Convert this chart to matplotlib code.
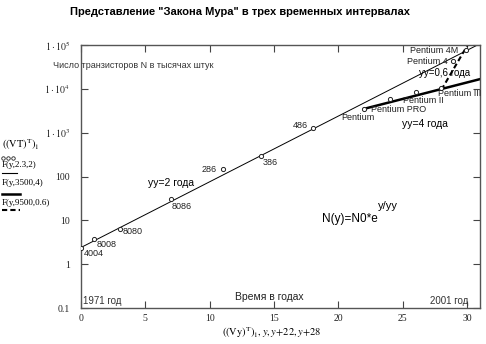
import matplotlib
matplotlib.use("Agg")
import matplotlib.pyplot as plt
from matplotlib.lines import Line2D

plt.rcParams['font.family'] = ['Liberation Sans', 'DejaVu Sans']
plt.rcParams['mathtext.fontset'] = 'stix'

# данные: годы от 1971 и число транзисторов (тыс. шт.)
years = [0, 1, 3, 7, 11, 14, 18, 22, 24, 26, 28, 28.9, 29.9]
transistors = [2.4, 3.7, 6.5, 30, 145, 300, 1280, 3500, 5800, 8400, 10400, 44000, 78000]

# прямые (на лог. шкале) трех законов: концы отрезков
fit1_x = [0, 31]
fit1_y = [2.4, 1.07e5]
fit2_x = [22, 31]
fit2_y = [3500, 16650]
fit3_x = [28, 30.04]
fit3_y = [9500, 1.0e5]

# подписи процессоров: текст, x, y, выравнивание
proc_labels = [
    ("4004", 0.23, 1.78, 'left'),
    ("8008", 1.24, 2.85, 'left'),
    ("8080", 3.26, 5.6, 'left'),
    ("8086", 7.07, 21, 'left'),
    ("286", 10.57, 144, 'right'),
    ("386", 14.14, 211, 'left'),
    ("486", 17.64, 1442, 'right'),
    ("Pentium", 20.2, 2275, 'left'),
    ("Pentium PRO", 22.53, 3300, 'left'),
    ("Pentium II", 25.02, 5400, 'left'),
    ("Pentium III", 27.7, 7700, 'left'),
    ("Pentium 4", 25.3, 42600, 'left'),
    ("Pentium 4M", 25.56, 74000, 'left'),
]

xticks = [0, 5, 10, 15, 20, 25, 30]
yticks = [0.1, 1, 10, 100, 1e3, 1e4, 1e5]
ytick_labels = ['0.1', '1', '10', '100', r'$1\cdot10^{3}$', r'$1\cdot10^{4}$', r'$1\cdot10^{5}$']

W, H = 486, 344
fig = plt.figure(figsize=(W / 100, H / 100), dpi=100)
ax = fig.add_axes([81 / W, 1 - 308 / H, (480 - 81) / W, (308 - 45) / H])

ax.set_yscale('log')
ax.set_xlim(0, 31)
ax.set_ylim(0.1, 1e5)

ax.plot(fit1_x, fit1_y, color='black', lw=0.7)
ax.plot(fit2_x, fit2_y, color='black', lw=1.8)
ax.plot(fit3_x, fit3_y, color='black', lw=1.5, ls=(0, (2.5, 1.5)))
ax.plot(years, transistors, ls='none', marker='o', ms=3.0, mfc='white',
        mec='#222222', mew=0.7, zorder=3)

for txt, x, y, ha in proc_labels:
    ax.text(x, y, txt, fontsize=6.5, ha=ha, va='center', color='#222222')

ax.text(5.2, 72, "yy=2 года", fontsize=7.5, va='center')
ax.text(24.94, 1545, "yy=4 года", fontsize=7.5, va='center')
ax.text(26.26, 23100, "yy=0,6 года", fontsize=7, va='center')
ax.text(18.7, 10.5, "N(y)=N0*e", fontsize=8.5, va='center')
ax.text(23.1, 20.8, "y/yy", fontsize=8, va='center')
ax.text(11.97, 0.178, "Время в годах", fontsize=7.5, va='center', color='#222222')
ax.text(0.15, 0.144, "1971 год", fontsize=7, va='center', color='#333333')
ax.text(30.07, 0.144, "2001 год", fontsize=7, va='center', ha='right', color='#333333')
ax.text(-2.2, 34600, "Число транзисторов N в тысячах штук", fontsize=6.5,
        va='center', color='#333333', clip_on=False)

ax.set_xticks(xticks)
ax.set_xticklabels([str(t) for t in xticks], family='Liberation Serif')
ax.set_yticks(yticks)
ax.set_yticklabels(ytick_labels, family='Liberation Serif')
ax.minorticks_off()
ax.tick_params(direction='in', length=5, width=0.8, labelsize=7, colors='#444444',
               labelcolor='#222222', top=True, right=True, pad=4)
ax.tick_params(axis='y', pad=8)
for s in ax.spines.values():
    s.set_color('#555555')
    s.set_linewidth(1.0)

fig.text(240 / W, 1 - 12 / H, 'Представление "Закона Мура" в трех временных интервалах',
         fontsize=8, fontweight='bold', ha='center', va='center')

fig.text(272 / W, 1 - 333 / H, r'$((\mathrm{Vy})^{\mathrm{T}})_{1}, y, y\!+\!22, y\!+\!28$',
         fontsize=7.5, ha='center', va='center')

# легенда слева (в стиле Mathcad)
fig.text(2 / W, 1 - 145 / H, r'$((\mathrm{VT})^{\mathrm{T}})_{1}$', fontsize=7.5, va='center')
fig.text(2 / W, 1 - 165 / H, 'F(y,2.3,2)', fontsize=6.5, va='center', family='Liberation Serif')
fig.text(2 / W, 1 - 183 / H, 'F(y,3500,4)', fontsize=6.5, va='center', family='Liberation Serif')
fig.text(2 / W, 1 - 203 / H, 'F(y,9500,0.6)', fontsize=6.5, va='center', family='Liberation Serif')
fig.add_artist(Line2D([3 / W, 8 / W, 13 / W], [1 - 158 / H] * 3, ls='none', marker='o',
                      ms=2.5, mfc='white', mec='#222222', mew=0.6))
fig.add_artist(Line2D([2 / W, 17 / W], [1 - 172.5 / H] * 2, color='black', lw=0.8))
fig.add_artist(Line2D([2 / W, 20 / W], [1 - 194 / H] * 2, color='black', lw=1.8))
fig.add_artist(Line2D([2 / W, 20 / W], [1 - 210 / H] * 2, color='black', lw=1.5,
                      ls=(0, (2.5, 1.5))))

fig.savefig('out.png', dpi=100)
